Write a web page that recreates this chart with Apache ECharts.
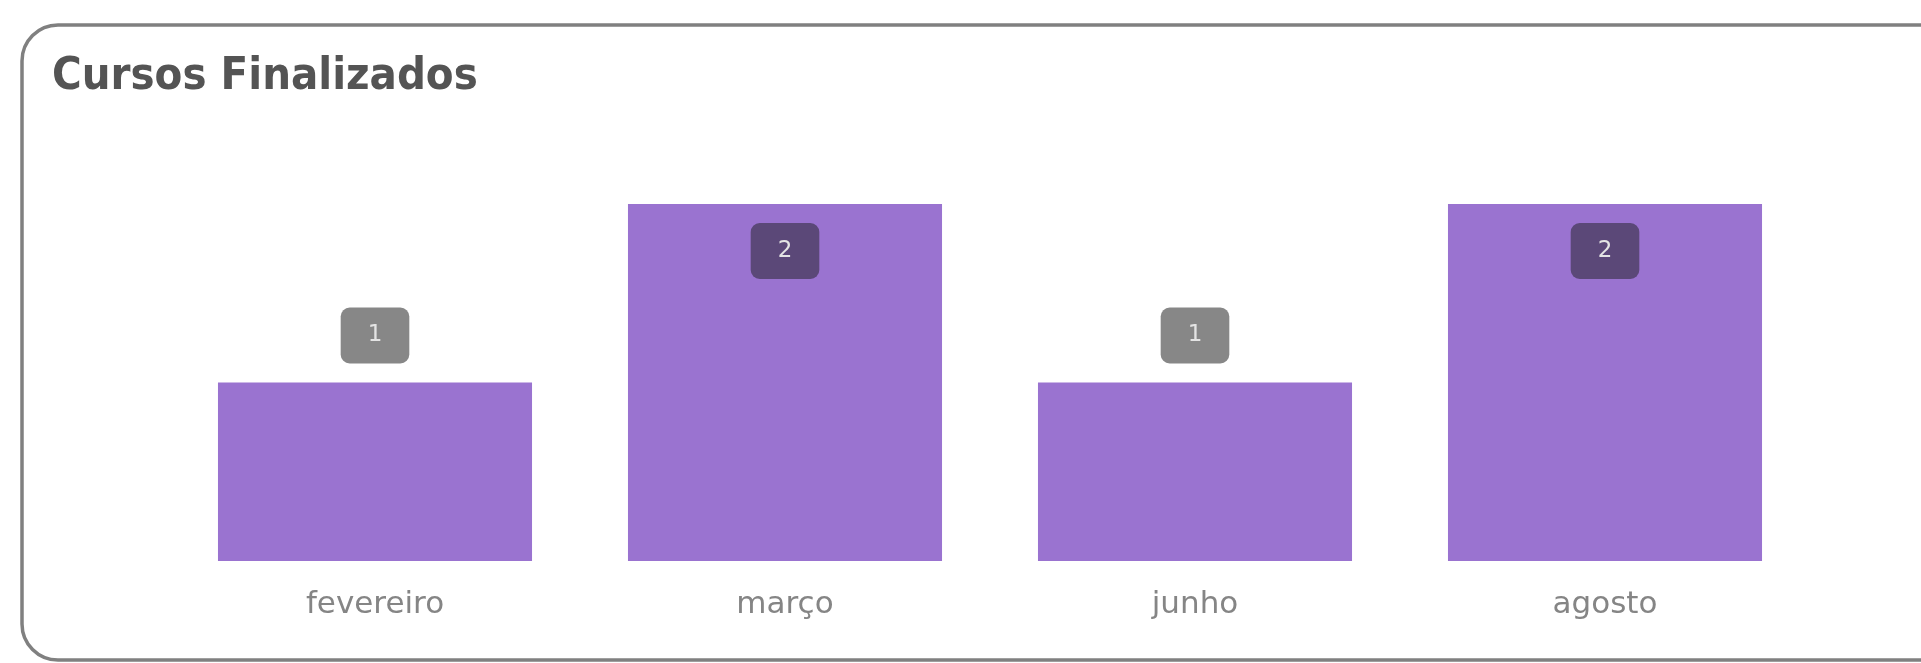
<!DOCTYPE html>
<html>
<head>
<meta charset="utf-8">
<script src="https://cdn.jsdelivr.net/npm/echarts@6/dist/echarts.min.js"></script>
<style>
  html, body { margin: 0; padding: 0; background: #fff; }
  #chart { width: 1921px; height: 663px; }
</style>
</head>
<body>
<div id="chart"></div>
<script>
// Finished courses per month
const months = ['fevereiro', 'março', 'junho', 'agosto'];
const finished = [1, 2, 1, 2];
const titleText = 'Cursos Finalizados';

const TITLE_FONT = '"DejaVu Sans Condensed", "DejaVu Sans", sans-serif';
const FONT = '"DejaVu Sans", sans-serif';

const chart = echarts.init(document.getElementById('chart'), null, { renderer: 'canvas' });

// Short bars carry their badge above; tall bars carry it inside near the top.
const seriesData = finished.map(function (v) {
  const tall = v >= 2;
  return {
    value: v,
    label: {
      position: tall ? 'insideTop' : 'top',
      distance: 19,
      backgroundColor: tall ? '#5b4878' : '#878787'
    }
  };
});

chart.setOption({
  animation: false,
  backgroundColor: '#ffffff',
  graphic: [{
    type: 'rect',
    z: -1,
    shape: { x: 22, y: 25, width: 1960, height: 635, r: 36 },
    style: { fill: '#ffffff', stroke: '#808080', lineWidth: 3.5 }
  }],
  title: {
    text: titleText,
    left: 52,
    top: 55,
    padding: 0,
    textStyle: { fontFamily: TITLE_FONT, fontSize: 45, fontWeight: 'bold', color: '#545454' }
  },
  grid: { left: 170, right: 111, top: 204, bottom: 102, containLabel: false },
  xAxis: {
    type: 'category',
    data: months,
    axisLine: { show: false },
    axisTick: { show: false },
    axisLabel: { margin: 28, fontFamily: FONT, fontSize: 31, color: '#858585' }
  },
  yAxis: {
    type: 'value',
    min: 0,
    max: 2,
    show: false,
    splitLine: { show: false }
  },
  series: [{
    type: 'bar',
    data: seriesData,
    barCategoryGap: '23.4%',
    itemStyle: { color: '#9a73d0' },
    label: {
      show: true,
      fontFamily: FONT,
      fontSize: 23,
      color: '#e4e4e4',
      padding: [16, 27, 16, 27],
      borderRadius: 9,
      lineHeight: 24
    }
  }]
});
</script>
</body>
</html>
